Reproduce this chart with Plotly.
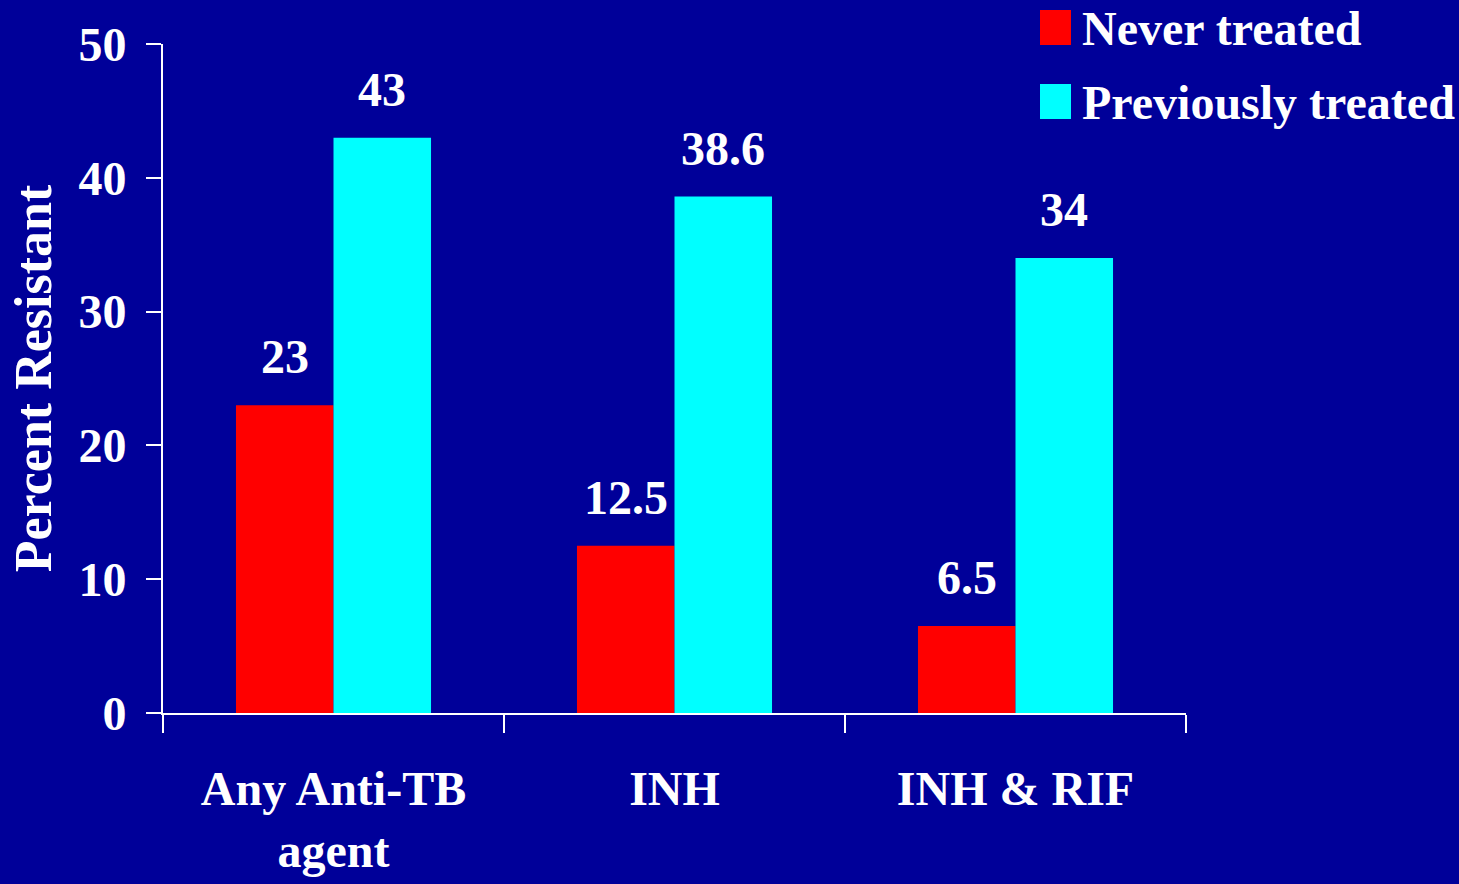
import plotly.graph_objects as go

# Drug-resistance survey: share of isolates resistant, by treatment history
categories = ["Any Anti-TB<br>agent", "INH", "INH & RIF"]
series_names = ["Never treated", "Previously treated"]
never_treated = [23, 12.5, 6.5]
previously_treated = [43, 38.6, 34]
series_values = [never_treated, previously_treated]
series_colors = ["#ff0000", "#00ffff"]
y_ticks = [0, 10, 20, 30, 40, 50]

BG = "#000099"
FONT = "Liberation Serif"
W, H = 1459, 884
M_L, M_R, M_T, M_B = 163, 273, 44, 171
BARGAP = 0.428

def px_to_paper_x(px):
    return (px - M_L) / (W - M_L - M_R)

def px_to_paper_y(py):
    return (H - M_B - py) / (H - M_T - M_B)

fig = go.Figure()
for name, vals, color in zip(series_names, series_values, series_colors):
    fig.add_trace(go.Bar(
        x=categories, y=vals, name=name,
        marker=dict(color=color, line=dict(width=0)),
        showlegend=False,
    ))

# value labels above each bar (category axis accepts fractional positions)
n_series = len(series_values)
bar_w = (1 - BARGAP) / n_series
annotations = []
for s, vals in enumerate(series_values):
    offset = -(1 - BARGAP) / 2 + bar_w * (s + 0.5)
    for i, v in enumerate(vals):
        annotations.append(dict(
            x=i + offset, y=v, xref="x", yref="y",
            text=f"{v:g}", showarrow=False,
            yanchor="bottom", yshift=20,
            font=dict(family=FONT, size=48, color="white", weight="bold"),
        ))

# legend drawn as swatches + labels in the top-right corner
shapes = []
legend_rows = [(10, 45, 28), (84, 119, 102)]
for (top, bot, mid), name, color in zip(legend_rows, series_names, series_colors):
    shapes.append(dict(
        type="rect", xref="paper", yref="paper",
        x0=px_to_paper_x(1040), x1=px_to_paper_x(1071),
        y0=px_to_paper_y(bot), y1=px_to_paper_y(top),
        fillcolor=color, line=dict(width=0),
    ))
    annotations.append(dict(
        x=px_to_paper_x(1080), y=px_to_paper_y(mid),
        xref="paper", yref="paper", xanchor="left", yanchor="middle",
        text=name, showarrow=False,
        font=dict(family=FONT, size=48, color="white", weight="bold"),
    ))

fig.update_layout(
    width=W, height=H,
    margin=dict(l=M_L, r=M_R, t=M_T, b=M_B, autoexpand=False),
    paper_bgcolor=BG, plot_bgcolor=BG,
    barmode="group", bargap=BARGAP, bargroupgap=0,
    font=dict(family=FONT, color="white", size=48),
    annotations=annotations, shapes=shapes,
    xaxis=dict(
        type="category", categoryorder="array", categoryarray=categories,
        range=[-0.5, len(categories) - 0.5],
        tickson="boundaries", ticks="outside", ticklen=18, tickwidth=2, tickcolor="white",
        ticklabelstandoff=32,
        showline=True, linecolor="white", linewidth=2,
        showgrid=False, zeroline=False,
        tickfont=dict(family=FONT, size=48, color="white", weight="bold"),
    ),
    yaxis=dict(
        range=[0, 50], tickmode="array", tickvals=y_ticks,
        ticks="outside", ticklen=15, tickwidth=2, tickcolor="white",
        ticklabelstandoff=10,
        showline=True, linecolor="white", linewidth=2,
        showgrid=False, zeroline=False,
        tickfont=dict(family=FONT, size=48, color="white", weight="bold"),
        title=dict(text="Percent Resistant", standoff=10,
                   font=dict(family=FONT, size=52, color="white", weight="bold")),
    ),
)

fig.write_html("out.html")
